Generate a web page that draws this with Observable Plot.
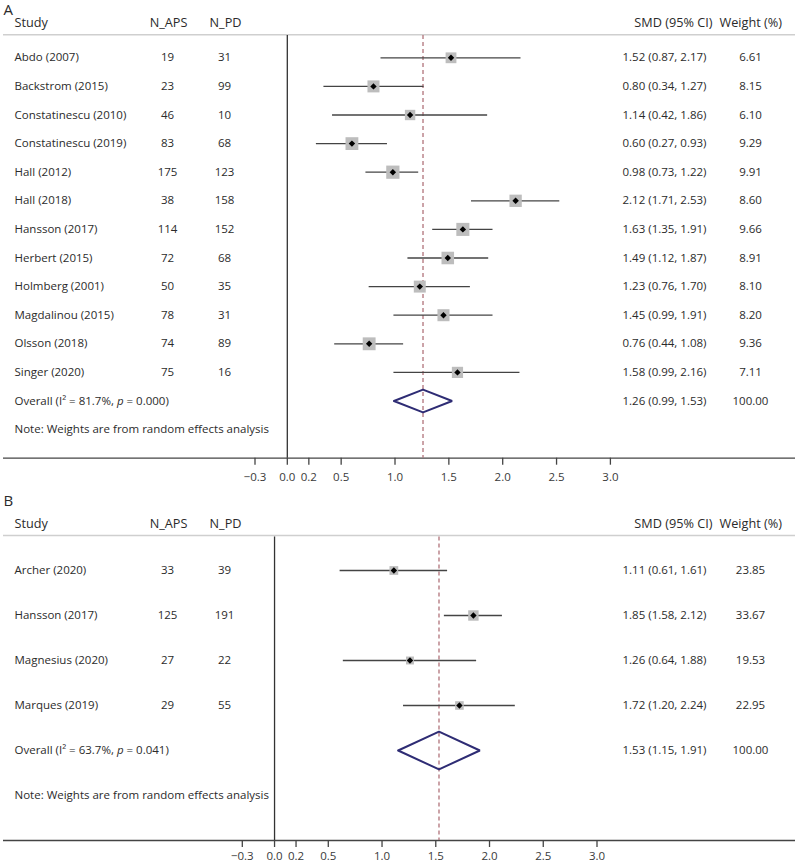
<!DOCTYPE html>
<html><head><meta charset="utf-8">
<script src="https://cdn.jsdelivr.net/npm/d3@7"></script>
<script src="https://cdn.jsdelivr.net/npm/@observablehq/plot@0.6"></script>
<style>
body{margin:0;background:#fff;}
#chart{width:797px;height:865px;overflow:hidden;}
#chart svg{display:block;}
</style></head><body><div id="chart"></div>
<script>
// ---------- Panel A data ----------
const studiesA = ["Abdo (2007)","Backstrom (2015)","Constatinescu (2010)","Constatinescu (2019)","Hall (2012)","Hall (2018)","Hansson (2017)","Herbert (2015)","Holmberg (2001)","Magdalinou (2015)","Olsson (2018)","Singer (2020)"];
const nApsA = [19,23,46,83,175,38,114,72,50,78,74,75];
const nPdA  = [31,99,10,68,123,158,152,68,35,31,89,16];
const smdA  = [1.52,0.80,1.14,0.60,0.98,2.12,1.63,1.49,1.23,1.45,0.76,1.58];
const lowA  = [0.87,0.34,0.42,0.27,0.73,1.71,1.35,1.12,0.76,0.99,0.44,0.99];
const highA = [2.17,1.27,1.86,0.93,1.22,2.53,1.91,1.87,1.70,1.91,1.08,2.16];
const weightA = [6.61,8.15,6.10,9.29,9.91,8.60,9.66,8.91,8.10,8.20,9.36,7.11];
const overallA = {smd:1.26, lo:0.99, hi:1.53, weight:100.00, i2:"81.7%", p:"0.000"};

// ---------- Panel B data ----------
const studiesB = ["Archer (2020)","Hansson (2017)","Magnesius (2020)","Marques (2019)"];
const nApsB = [33,125,27,29];
const nPdB  = [39,191,22,55];
const smdB  = [1.11,1.85,1.26,1.72];
const lowB  = [0.61,1.58,0.64,1.20];
const highB = [1.61,2.12,1.88,2.24];
const weightB = [23.85,33.67,19.53,22.95];
const overallB = {smd:1.53, lo:1.15, hi:1.91, weight:100.00, i2:"63.7%", p:"0.041"};

const tickValues = [-0.3,0,0.2,0.5,1.0,1.5,2.0,2.5,3.0];
const headerLabels = ["Study","N_APS","N_PD","SMD (95% CI)","Weight (%)"];
const noteText = "Note: Weights are from random effects analysis";

const FONT = "Open Sans";
const TXT = "#2b2b2b";
const fmt2 = d3.format(".2f");

function panel(letter, studies, naps, npd, smd, lo, hi, w, ov, L) {
  const n = studies.length;
  const rows = studies.map((s,i)=>({row:i, study:s, naps:naps[i], npd:npd[i], smd:smd[i], lo:lo[i], hi:hi[i], w:w[i]}));
  const ovRow = {row:n, study:`Overall (I\u00b2 = ${ov.i2}, p = ${ov.p})`, smd:ov.smd, lo:ov.lo, hi:ov.hi, w:ov.weight};
  const noteRow = {row:n+1, study:noteText};
  const axisRow = n + 2;
  const toRow = y => (y - L.rowY0) / L.step;
  const headRow = toRow(L.headerY), lineRow = toRow(L.headerLineY), vRow = toRow(L.vStartY);
  const ci = d => `${fmt2(d.smd)} (${fmt2(d.lo)}, ${fmt2(d.hi)})`;
  const h = L.diamondH;
  const diamond = [
    {x:ov.lo, y:n}, {x:ov.smd, y:n-h}, {x:ov.hi, y:n}, {x:ov.smd, y:n+h}, {x:ov.lo, y:n}
  ];
  const headPos = [{dx:11, a:"start"},{dx:165, a:"middle"},{dx:222, a:"middle"},{dx:709, a:"end"},{dx:716, a:"start"}];
  const header = headerLabels.map((t,i) => ({t, ...headPos[i]}));
  const axisY = L.rowY0 + axisRow * L.step;
  const svg = Plot.plot({
    width: 797, height: L.height,
    marginLeft: 3, marginRight: 2, marginTop: 0, marginBottom: L.height - axisY,
    style: {fontFamily: FONT, fontSize: "11.5px", color: TXT, background: "#fff"},
    x: {domain: [-0.3, 3], range: L.xRange},
    y: {domain: [0, axisRow], range: [L.rowY0, axisY], axis: null},
    r: {type: "sqrt", domain: [0, L.rDom], range: [0, L.rMax]},
    marks: [
      Plot.ruleY([lineRow], {stroke: "#cfcfcf", strokeWidth: 1.5}),
      Plot.ruleY([axisRow], {stroke: "#444", strokeWidth: 1.3}),
      Plot.ruleX([0], {y1: vRow, y2: axisRow, stroke: "#333", strokeWidth: 1.3}),
      Plot.ruleX([ov.smd], {y1: vRow, y2: axisRow, stroke: "#b0737a", strokeWidth: 1.3, strokeDasharray: "4,3"}),
      Plot.axisX({ticks: tickValues, tickFormat: d3.format(".1f"), tickSize: 7, tickPadding: L.tickPad, label: null, stroke: "#444", strokeWidth: 1.3, fill: "#3a3a3a"}),
      Plot.ruleY(rows, {y: "row", x1: "lo", x2: "hi", stroke: "#444", strokeWidth: 1.3}),
      Plot.dot(rows, {x: "smd", y: "row", r: "w", symbol: "square", fill: "#bdbdbd", stroke: "none"}),
      Plot.dot(rows, {x: "smd", y: "row", r: 2.9, symbol: "diamond2", fill: "#000", stroke: "none"}),
      Plot.line(diamond, {x: "x", y: "y", stroke: "#2e2c74", strokeWidth: 2, curve: "linear", strokeLinejoin: "miter"}),
      // header
      ...header.map(c => Plot.text([c], {y: () => headRow, text: "t", frameAnchor: "left", dx: c.dx, textAnchor: c.a, fill: TXT, fontSize: 12.7})),
      // columns
      Plot.text([...rows, ovRow, noteRow], {y: "row", text: "study", frameAnchor: "left", dx: 11, textAnchor: "start", fill: TXT}),
      Plot.text(rows, {y: "row", text: "naps", frameAnchor: "left", dx: 164, textAnchor: "middle", fill: TXT}),
      Plot.text(rows, {y: "row", text: "npd", frameAnchor: "left", dx: 221, textAnchor: "middle", fill: TXT}),
      Plot.text([...rows, ovRow], {y: "row", text: ci, frameAnchor: "left", dx: 619, textAnchor: "start", fill: TXT}),
      Plot.text([...rows, ovRow], {y: "row", text: d => fmt2(d.w), frameAnchor: "left", dx: 747, textAnchor: "middle", fill: TXT}),
      // panel letter
      Plot.text([letter], {text: d => d, frameAnchor: "top-left", dx: 0, dy: L.letterDy, textAnchor: "start", lineAnchor: "top", fontSize: 15, fill: TXT})
    ]
  });
  // italic p in the Overall label
  svg.querySelectorAll("text").forEach(t => {
    const s = t.textContent;
    const k = s.indexOf(", p = ");
    if (s.startsWith("Overall") && k >= 0 && t.children.length === 0) {
      const parts = [[s.slice(0, k + 2), null], ["p", "italic"], [s.slice(k + 3), null]];
      t.textContent = "";
      for (const [str, style] of parts) {
        const ts = document.createElementNS("http://www.w3.org/2000/svg", "tspan");
        ts.textContent = str;
        if (style) ts.setAttribute("font-style", style);
        t.appendChild(ts);
      }
    }
  });
  return svg;
}

const root = document.getElementById("chart");
root.appendChild(panel("A", studiesA, nApsA, nPdA, smdA, lowA, highA, weightA, overallA, {
  height: 490, rowY0: 57.3, step: 28.6, headerY: 22.5, headerLineY: 34.3, vStartY: 35,
  xRange: [254.5, 609.9], rDom: 10, rMax: 7.5, diamondH: 0.4, letterDy: 4, tickPad: 8
}));
root.appendChild(panel("B", studiesB, nApsB, nPdB, smdB, lowB, highB, weightB, overallB, {
  height: 375, rowY0: 80, step: 45, headerY: 33, headerLineY: 45, vStartY: 46.5,
  xRange: [241.8, 596.5], rDom: 34, rMax: 5.9, diamondH: 0.42, letterDy: 5, tickPad: 4.5
}));
</script>
</body></html>
